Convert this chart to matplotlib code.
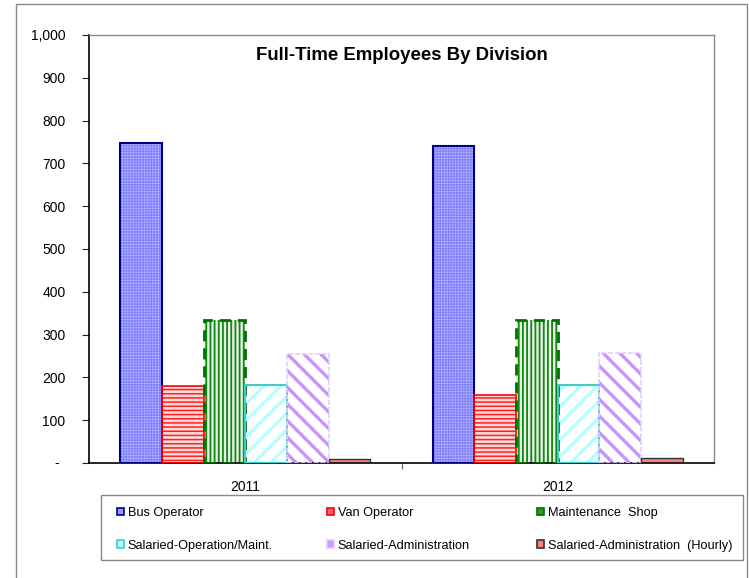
import matplotlib
matplotlib.use('Agg')
import matplotlib.pyplot as plt
import matplotlib.transforms as mtransforms
from matplotlib.patches import Patch, Rectangle
from matplotlib.ticker import FuncFormatter
import numpy as np

plt.rcParams['font.family'] = ['Liberation Sans', 'DejaVu Sans']

# data
years = ['2011', '2012']
divisions = ['Bus Operator', 'Van Operator', 'Maintenance  Shop',
             'Salaried-Operation/Maint.', 'Salaried-Administration',
             'Salaried-Administration  (Hourly)']
bus_operator = [748, 740]
van_operator = [180, 160]
maintenance_shop = [334, 334]
salaried_operation = [183, 182]
salaried_admin = [255, 258]
salaried_admin_hourly = [10, 12]
values = [bus_operator, van_operator, maintenance_shop,
          salaried_operation, salaried_admin, salaried_admin_hourly]

# style per series: face, hatch colour, hatch, hatch width, edge, edge style, edge width
styles = [
    ('#c8c8ff', '#8585ff', '++++++', 1.0, '#000080', 'solid', 1.5),
    ('#ffd8d8', '#ff2020', '----', 1.1, '#ff0000', 'solid', 1.2),
    ('#e4f2e4', '#158515', '||||', 1.3, '#007000', (0, (4, 2.5)), 2.0),
    ('#ffffff', '#b0ffff', '//', 2.2, '#40cccc', 'solid', 1.5),
    ('#ffffff', '#c793ff', '\\\\', 2.4, '#e4ccff', (0, (3, 1)), 1.2),
    ('#ff8080', '#ff8080', '', 1.0, '#333333', 'solid', 1.0),
]
legend_faces = ['#9a9aff', '#ff6060', '#2a9a2a', '#b8ffff', '#cc99ff', '#ff8080']

fig = plt.figure(figsize=(7.49, 5.78), dpi=100)
ax = fig.add_axes([89 / 749, 1 - 463 / 578, (714 - 89) / 749, (463 - 35) / 578])

x = np.arange(len(years))
n = len(values)
w = 0.8 / n
for i, (vals, st) in enumerate(zip(values, styles)):
    face, hcol, hatch, hlw, edge, ls, lw = st
    pos = x - 0.4 + (i + 0.5) * w
    # hatched fill (hatch colour follows edgecolor)
    with plt.rc_context({'hatch.linewidth': hlw}):
        ax.bar(pos, vals, w, color=face, edgecolor=hcol, hatch=hatch, linewidth=0, zorder=2)
    # outline on top
    ax.bar(pos, vals, w, fill=False, edgecolor=edge, linestyle=ls, linewidth=lw, zorder=3)

ax.set_xlim(-0.5, 1.5)
ax.set_ylim(0, 1000)
ax.set_yticks(np.arange(0, 1001, 100))
ax.yaxis.set_major_formatter(FuncFormatter(lambda v, p: '' if v == 0 else f'{int(v):,}'))
ax.tick_params(axis='y', direction='out', length=5, width=0.8, pad=12, labelsize=10,
               color='#222222', labelcolor='black')
# dash for the zero label, offset like the accounting format
dash_tr = ax.get_yaxis_transform() + mtransforms.ScaledTranslation(-23 / 72, 0, fig.dpi_scale_trans)
ax.text(0, 0, '-', transform=dash_tr, ha='center', va='center', fontsize=10)

ax.set_xticks(x)
ax.set_xticklabels(years, fontsize=10)
ax.set_xticks([0.5], minor=True)
ax.tick_params(axis='x', which='major', length=0, pad=12)
ax.tick_params(axis='x', which='minor', direction='out', length=4, width=0.8, colors='#666666')

for s in ['top', 'right']:
    ax.spines[s].set_color('#888888')
    ax.spines[s].set_linewidth(1.0)
for s in ['left', 'bottom']:
    ax.spines[s].set_color('black')
    ax.spines[s].set_linewidth(1.2)

ax.text(0.5, 0.953, 'Full-Time Employees By Division', transform=ax.transAxes,
        ha='center', va='center', fontsize=13.4, fontweight='bold')

# legend: three columns placed like the original, filled row by row
handles = [Patch(facecolor=f, edgecolor=st[4], linewidth=1.2) for f, st in zip(legend_faces, styles)]
col_x = [117, 327, 537]
for c, cx in enumerate(col_x):
    fig.legend([handles[c], handles[c + 3]], [divisions[c], divisions[c + 3]],
               loc='upper left', bbox_to_anchor=(cx / 749, 1 - 507 / 578),
               fontsize=9.2, handlelength=0.55, handleheight=0.55, handletextpad=0.3,
               labelspacing=1.62, borderpad=0, borderaxespad=0, frameon=False)

fig.patches.append(Rectangle((101 / 749, 1 - 560 / 578), (743 - 101) / 749, 65 / 578,
                             transform=fig.transFigure, fill=False,
                             edgecolor='#888888', linewidth=1.0))

# outer chart-area border
fig.patches.append(Rectangle((16 / 749, -0.05), (747 - 16) / 749, 1.05 - 4 / 578,
                             transform=fig.transFigure, fill=False,
                             edgecolor='#888888', linewidth=1.0))

fig.savefig('out.png', dpi=100)
